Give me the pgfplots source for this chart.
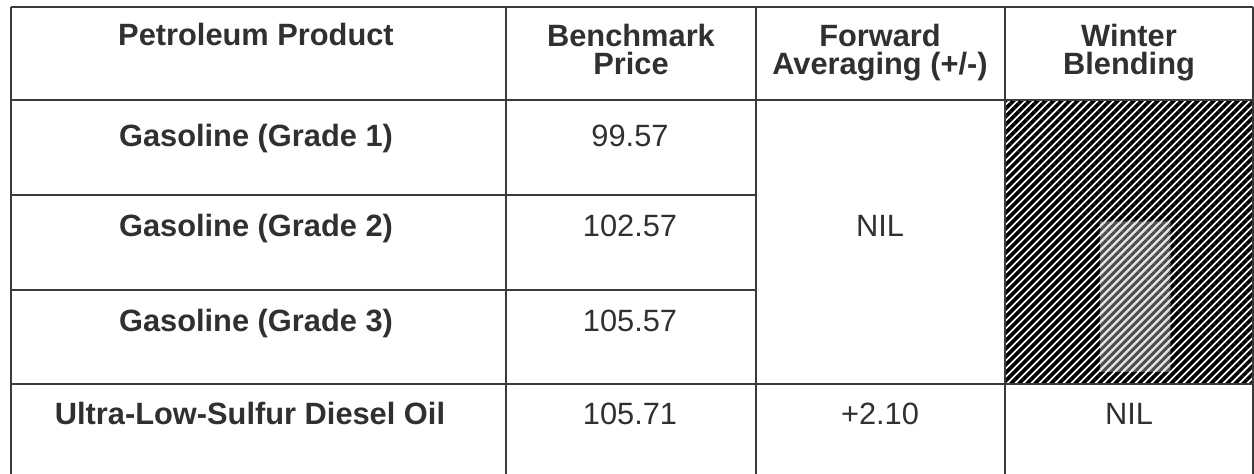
\documentclass[border=0pt]{standalone}
\usepackage{pgfplots}
\pgfplotsset{compat=1.18}
\usepackage{fontspec}
\setmainfont{Liberation Sans}
\usetikzlibrary{patterns.meta}
\definecolor{txt}{HTML}{303030}
\definecolor{rule}{HTML}{3A3A3A}
\newcommand{\tf}{\fontsize{15.4pt}{14pt}\selectfont}
\begin{document}
\begin{tikzpicture}
\begin{axis}[
  name=tab,
  x=0.5pt, y=0.5pt, y dir=reverse,
  xmin=0, xmax=1254, ymin=0, ymax=474,
  hide axis, clip=false,
]
% hatched cell (Winter Blending, merged rows 1-3)
\addplot[draw=none, pattern={Lines[angle=45,distance=2.83pt,line width=1.85pt]}, pattern color=black]
  coordinates {(1005,100) (1253,100) (1253,384) (1005,384) (1005,100)};
\addplot[draw=none, fill=black!10]
  coordinates {(1100,222) (1170,222) (1170,372) (1100,372) (1100,222)};
\addplot[draw=none, pattern={Lines[angle=45,distance=2.83pt,line width=1.5pt]}, pattern color=black!70]
  coordinates {(1100,222) (1170,222) (1170,372) (1100,372) (1100,222)};
% grid lines
\addplot[rule, line width=1pt] coordinates {(11,7) (1253,7)};
\addplot[rule, line width=1pt] coordinates {(11,100) (1253,100)};
\addplot[rule, line width=1pt] coordinates {(11,195) (756,195)};
\addplot[rule, line width=1pt] coordinates {(11,290) (756,290)};
\addplot[rule, line width=1pt] coordinates {(11,384) (1253,384)};
\addplot[rule, line width=1pt] coordinates {(11,7) (11,474)};
\addplot[rule, line width=1pt] coordinates {(506,7) (506,474)};
\addplot[rule, line width=1pt] coordinates {(756,7) (756,474)};
\addplot[rule, line width=1pt] coordinates {(1005,7) (1005,474)};
\addplot[rule, line width=1pt] coordinates {(1253,7) (1253,474)};
% header
\node[anchor=base, text=txt, font=\tf\bfseries] at (axis cs:256,46) {Petroleum Product};
\node[anchor=base, text=txt, font=\tf\bfseries] at (axis cs:631,47) {Benchmark};
\node[anchor=base, text=txt, font=\tf\bfseries] at (axis cs:631,75) {Price};
\node[anchor=base, text=txt, font=\tf\bfseries] at (axis cs:880,47) {Forward};
\node[anchor=base, text=txt, font=\tf\bfseries] at (axis cs:880,75) {Averaging (+/-)};
\node[anchor=base, text=txt, font=\tf\bfseries] at (axis cs:1129,47) {Winter};
\node[anchor=base, text=txt, font=\tf\bfseries] at (axis cs:1129,75) {Blending};
% rows
\node[anchor=base, text=txt, font=\tf\bfseries] at (axis cs:256,147) {Gasoline (Grade 1)};
\node[anchor=base, text=txt, font=\tf\bfseries] at (axis cs:256,237) {Gasoline (Grade 2)};
\node[anchor=base, text=txt, font=\tf\bfseries] at (axis cs:256,332) {Gasoline (Grade 3)};
\node[anchor=base, text=txt, font=\tf\bfseries] at (axis cs:250,425) {Ultra-Low-Sulfur Diesel Oil};
\node[anchor=base, text=txt, font=\tf] at (axis cs:630,147) {99.57};
\node[anchor=base, text=txt, font=\tf] at (axis cs:630,237) {102.57};
\node[anchor=base, text=txt, font=\tf] at (axis cs:630,332) {105.57};
\node[anchor=base, text=txt, font=\tf] at (axis cs:630,425) {105.71};
\node[anchor=base, text=txt, font=\tf] at (axis cs:880,237) {NIL};
\node[anchor=base, text=txt, font=\tf] at (axis cs:880,425) {+2.10};
\node[anchor=base, text=txt, font=\tf] at (axis cs:1129,425) {NIL};
\end{axis}
\pgfresetboundingbox
\path[use as bounding box] (tab.south west) rectangle (tab.north east);
\end{tikzpicture}
\end{document}
